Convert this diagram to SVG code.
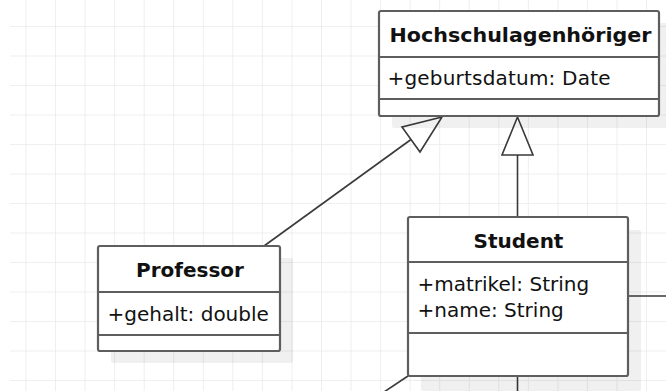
<svg xmlns="http://www.w3.org/2000/svg" width="666" height="391" viewBox="0 0 666 391">
  <style>
    .box { fill: #ffffff; stroke: #5e5e5e; stroke-width: 2.2; }
    .div { stroke: #5e5e5e; stroke-width: 2.2; fill: none; }
    .shadow { fill: #000000; fill-opacity: 0.06; }
    .title { font-family: "DejaVu Sans", "Liberation Sans", sans-serif; font-weight: bold; font-size: 20px; fill: #111111; text-anchor: middle; }
    .attr { font-family: "DejaVu Sans", "Liberation Sans", sans-serif; font-size: 20px; fill: #111111; }
    .edge { stroke: #3a3a3a; stroke-width: 1.6; fill: none; }
    .edge2 { stroke: #6a6a6a; stroke-width: 2; fill: none; }
    .head { fill: #ffffff; stroke: #3a3a3a; stroke-width: 1.6; stroke-linejoin: miter; }
  </style>
  <defs>
    <pattern id="grid" patternUnits="userSpaceOnUse" x="25.5" y="26" width="29.55" height="29.5">
      <path d="M0 0 V29.5 M0 0 H29.55" stroke="#eaeaea" stroke-width="1.6" fill="none"/>
    </pattern>
  </defs>
  <rect x="0" y="0" width="666" height="391" fill="#ffffff"/>
  <rect x="10" y="0" width="656" height="391" fill="url(#grid)"/>

  <g id="connectors">
    <line class="edge" x1="517.5" y1="155" x2="517.5" y2="217"/>
    <polygon class="head" points="517.5,117 502,155 533,155"/>
    <line class="edge" x1="264" y1="246" x2="411" y2="139.5"/>
    <polygon class="head" points="442,117 402,127 420,152"/>
    <line class="edge2" x1="628" y1="296" x2="666" y2="296"/>
    <line class="edge" x1="517.5" y1="376" x2="517.5" y2="391"/>
    <line class="edge" x1="408" y1="376" x2="384" y2="392"/>
  </g>

  <g id="hochschulangehoeriger">
    <rect class="shadow" x="392" y="23" width="280" height="105" rx="2"/>
    <rect class="box" x="379" y="11" width="280" height="105" rx="2"/>
    <line class="div" x1="379" y1="57" x2="659" y2="57"/>
    <line class="div" x1="379" y1="99" x2="659" y2="99"/>
    <text class="title" x="520.5" y="42" textLength="262" lengthAdjust="spacingAndGlyphs">Hochschulagenhöriger</text>
    <text class="attr" x="387.5" y="85" textLength="223" lengthAdjust="spacing">+geburtsdatum: Date</text>
  </g>

  <g id="student">
    <rect class="shadow" x="421" y="230" width="220" height="161" rx="2"/>
    <rect class="box" x="408" y="217" width="220" height="159" rx="2"/>
    <line class="div" x1="408" y1="262" x2="628" y2="262"/>
    <line class="div" x1="408" y1="333" x2="628" y2="333"/>
    <text class="title" x="518.5" y="248">Student</text>
    <text class="attr" x="417.5" y="291">+matrikel: String</text>
    <text class="attr" x="417.5" y="317">+name: String</text>
  </g>

  <g id="professor">
    <rect class="shadow" x="111" y="258" width="182" height="105" rx="2"/>
    <rect class="box" x="98" y="246" width="182" height="105" rx="2"/>
    <line class="div" x1="98" y1="292" x2="280" y2="292"/>
    <line class="div" x1="98" y1="335" x2="280" y2="335"/>
    <text class="title" x="190" y="277">Professor</text>
    <text class="attr" x="107.5" y="320.5">+gehalt: double</text>
  </g>
</svg>
